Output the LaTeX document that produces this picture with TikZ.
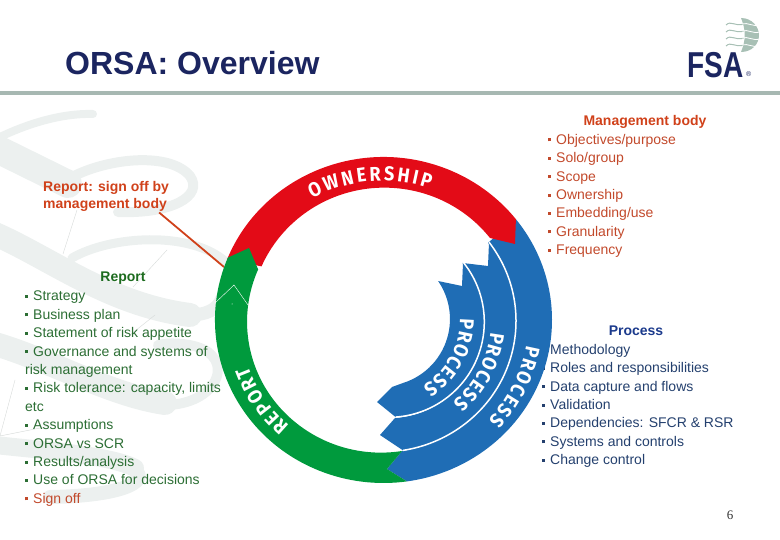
\documentclass[tikz,border=0pt]{standalone}
\usepackage{fontspec}
\setmainfont{Liberation Sans}
\newfontfamily\ringfont[FakeStretch=0.9]{Fira Sans Bold}
\newfontfamily\pagefont{Liberation Serif}
\usetikzlibrary{decorations.text}
\definecolor{navy}{HTML}{1B2560}
\definecolor{rulesage}{HTML}{A7B8B2}
\definecolor{wmgrey}{HTML}{ECF0EF}
\definecolor{ringred}{HTML}{E30B17}
\definecolor{ringgreen}{HTML}{009A3D}
\definecolor{ringblue}{HTML}{1F6DB5}
\definecolor{mgmtred}{HTML}{C2492B}
\definecolor{headred}{HTML}{D0411A}
\definecolor{repgreen}{HTML}{2C6E34}
\definecolor{headgreen}{HTML}{1C6B1E}
\definecolor{procblue}{HTML}{24406E}
\definecolor{headblue}{HTML}{1B3A8C}
\definecolor{globe}{HTML}{A8C0B5}
\newcommand{\itm}{\rule[3pt]{3pt}{3pt}\hspace{5pt}}
\begin{document}
\begin{tikzpicture}[x=1pt,y=-1pt,
 wmark/.style={draw=wmgrey,line cap=round},
 listbox/.style={align=left,inner sep=0pt,anchor=north west,font=\fontsize{14}{18.4}\selectfont},
 headbox/.style={inner sep=0pt,font=\bfseries\fontsize{14}{17}\selectfont},
 ringlabel/.style={decorate,decoration={text along path,text color=white,text align={fit to path},text={|\ringfont\fontsize{20}{20}\selectfont|#1}}},
 band/.style={fill=ringblue},
 sep/.style={draw=white,line width=1.5pt}]
\useasboundingbox (0,0) rectangle (780,540);
\draw[wmark,line width=8] (93,114) .. controls (60,113) and (25,125) .. (0,137);
\draw[wmark,line width=28] (-5,148) -- (68,184);
\draw[wmark,line width=10] (74,176) .. controls (110,158) and (170,152) .. (190,176) .. controls (204,196) and (172,214) .. (118,212);
\draw[wmark,line width=24] (-5,234) .. controls (50,258) and (110,305) .. (190,315);
\draw[wmark,line width=13] (190,315) .. controls (205,315) and (218,310) .. (222,298);
\draw[wmark,line width=9] (72,258) .. controls (110,236) and (190,230) .. (226,262);
\draw[wmark,line width=24] (-5,344) .. controls (50,360) and (110,395) .. (165,403);
\draw[wmark,line width=10] (165,405) .. controls (210,405) and (232,370) .. (208,352) .. controls (195,343) and (170,342) .. (158,345);
\draw[wmark,line width=18] (-5,445) .. controls (40,450) and (110,455) .. (135,468);
\draw[wmark,line width=14] (135,470) .. controls (150,482) and (120,496) .. (50,497);
\draw[wmgrey!80!gray,line width=0.4pt] (77,210) -- (63,254) (167,250) -- (133,287) (0,436) -- (15,380) (0,436) -- (55,425) (155,315) -- (130,335);
\node[anchor=base west,inner sep=0pt,text=navy,font=\bfseries\fontsize{32}{32}\selectfont] (title) at (65,75) {ORSA: Overview};
\fill[rulesage] (0,91) rectangle (780,95);
\fill[globe] (741,18) .. controls (752,18) and (759,27) .. (759,35) .. controls (759,44) and (752,52) .. (741,52) .. controls (746,40) and (746,30) .. (741,18);
\foreach \ya in {24,31,38,45} {
 \draw[globe,line width=1pt] (726,\ya+1) .. controls (731,\ya-4) and (735,\ya+3) .. (744,\ya);
 \draw[white,line width=0.8pt] (742,\ya) .. controls (748,\ya-2) and (752,\ya+3) .. (760,\ya+1);
}
\node[anchor=base west,inner sep=0pt,text=navy,font=\bfseries\fontsize{36}{36}\selectfont] (fsa) at (687,78) {\scalebox{0.78}[1]{FSA}};
\node[anchor=base west,inner sep=0pt,text=navy,font=\fontsize{7}{7}\selectfont] (regmark) at (746,77) {®};
\node[headbox,text=headred] (mgmthead) at (645,122) {Management body};
\node[listbox,text=mgmtred] (mgmtlist) at (548,134) {\itm Objectives/purpose\\ \itm Solo/group\\ \itm Scope\\ \itm Ownership\\ \itm Embedding/use\\ \itm Granularity\\ \itm Frequency};
\node[headbox,text=headred,align=left,anchor=north west] (signoff) at (43,181) {Report: sign off by\\management body};
\node[headbox,text=headgreen] (rephead) at (123,278) {Report};
\node[listbox,text=repgreen] (replist) at (25,291) {\itm Strategy\\ \itm Business plan\\ \itm Statement of risk appetite\\ \itm Governance and systems of\\ risk management\\ \itm Risk tolerance: capacity, limits\\ etc\\ \itm Assumptions\\ \itm ORSA vs SCR\\ \itm Results/analysis\\ \itm Use of ORSA for decisions\\ {\color{mgmtred}\itm Sign off}};
\node[headbox,text=headblue] (prochead) at (636,331) {Process};
\node[listbox,text=procblue] (proclist) at (542,344) {\itm Methodology\\ \itm Roles and responsibilities\\ \itm Data capture and flows\\ \itm Validation\\ \itm Dependencies: SFCR \& RSR\\ \itm Systems and controls\\ \itm Change control};
\node[inner sep=0pt,text=black!80,font=\pagefont\fontsize{13}{13}\selectfont] (pageno) at (730,515) {6};
\coordinate (leaderend) at (224,267);
\draw[headred,line width=1.8pt] ([xshift=-10pt,yshift=-1pt]signoff.south east) -- (leaderend);
\fill[band] (383.5,320) ++(-38.2:168.5 and 163) arc[start angle=-38.2,end angle=82,x radius=168.5,y radius=163] -- (387,469) -- (402,451) arc[start angle=81,end angle=-37,x radius=134,y radius=131] -- cycle;
\fill[band] (382,321) ++(-37:134 and 131) arc[start angle=-37,end angle=81,x radius=134,y radius=131] -- (380,435) -- (395,418) arc[start angle=86,end angle=-39,radius=95.3] -- (488,266) -- cycle;
\fill[band] (389,322) ++(-39:95.3) arc[start angle=-39,end angle=86,radius=95.3] -- (377,402) -- (392,387) -- (403,383) arc[start angle=72.6,end angle=-34.6,radius=67] -- (462,286) -- cycle;
\draw[sep] (382,321) ++(-37:134 and 131) arc[start angle=-37,end angle=81,x radius=134,y radius=131];
\draw[sep] (389,322) ++(-39:95.3) arc[start angle=-39,end angle=86,radius=95.3];
\fill[ringred] (383.5,320) ++(202:168.5 and 163) arc[start angle=202,end angle=321.8,x radius=168.5,y radius=163] -- (515,244) -- (490,238) arc[start angle=322,end angle=203.5,x radius=134,y radius=131] -- cycle;
\fill[ringgreen] (383.5,320) ++(202.5:168.5 and 163) arc[start angle=202.5,end angle=82,x radius=168.5,y radius=163] -- (387,469) -- (402,451) arc[start angle=81,end angle=203.5,x radius=134,y radius=131] -- (249,248) -- cycle;
\draw[white,line width=0.4pt] (215,303) -- (234,285) -- (248,305);
\fill[white] (232,304) circle[radius=0.5];
\path[ringlabel=OWNERSHIP] (382,320) ++(-119:144 and 139) arc[start angle=-119,end angle=-70.6,x radius=144,y radius=139];
\path[ringlabel=REPORT] (382,320) ++(130.5:142 and 139) arc[start angle=130.5,end angle=160.5,x radius=142,y radius=139];
\path[ringlabel=PROCESS] (383.5,320) ++(10:145) arc[start angle=10,end angle=43.5,radius=145];
\path[ringlabel=PROCESS] (385,321) ++(6:106) arc[start angle=6,end angle=50,radius=106];
\path[ringlabel=PROCESS] (383,320) ++(-1:77) arc[start angle=-1,end angle=59,radius=77];
\end{tikzpicture}
\end{document}
